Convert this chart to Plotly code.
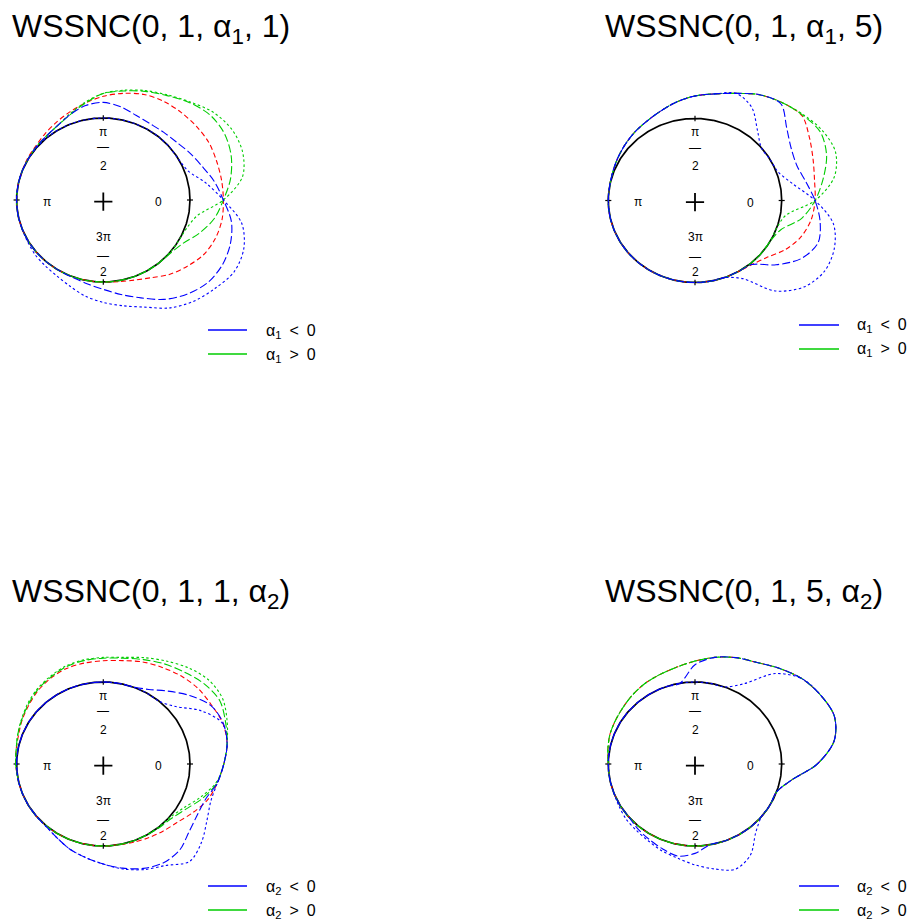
import numpy as np
import plotly.graph_objects as go

W, H = 915, 922
THETA_DEG = list(range(0, 360, 10))  # 0, 10, ..., 350

# ---------------- Panel 1 : WSSNC(0, 1, alpha1, 1) ----------------
P1_RED = [1.385, 1.385, 1.39, 1.405, 1.40, 1.395, 1.39, 1.37, 1.32, 1.265, 1.20, 1.14,
          1.09, 1.05, 1.02, 1.01, 1.0, 1.0, 1.0, 1.0, 1.0, 1.0, 1.0, 1.0,
          1.0, 1.0, 1.0, 1.0, 1.01, 1.04, 1.095, 1.185, 1.26, 1.335, 1.375, 1.39]
P1_GREEN_A = [1.385, 1.49, 1.57, 1.615, 1.61, 1.55, 1.47, 1.41, 1.35, 1.30, 1.20, 1.11,
              1.05, 1.02, 1.01, 1.0, 1.0, 1.0, 1.0, 1.0, 1.0, 1.0, 1.0, 1.0,
              1.0, 1.0, 1.0, 1.0, 1.0, 1.0, 1.0, 1.0, 1.01, 1.06, 1.18, 1.30]
P1_GREEN_B = [1.385, 1.63, 1.71, 1.715, 1.66, 1.56, 1.48, 1.42, 1.36, 1.30, 1.21, 1.12,
              1.05, 1.02, 1.01, 1.0, 1.0, 1.0, 1.0, 1.0, 1.0, 1.0, 1.0, 1.0,
              1.0, 1.0, 1.0, 1.0, 1.0, 1.0, 1.0, 1.0, 1.0, 1.0, 1.02, 1.10]
P1_BLUE_A = [1.385, 1.30, 1.21, 1.15, 1.10, 1.08, 1.075, 1.10, 1.155, 1.19, 1.17, 1.11,
             1.05, 1.02, 1.01, 1.0, 1.0, 1.0, 1.0, 1.0, 1.0, 1.0, 1.0, 1.0,
             1.0, 1.01, 1.04, 1.09, 1.17, 1.27, 1.40, 1.50, 1.57, 1.585, 1.56, 1.50]
P1_BLUE_B = [1.385, 1.20, 1.04, 1.0, 1.0, 1.0, 1.0, 1.0, 1.0, 1.0, 1.0, 1.0,
             1.0, 1.0, 1.0, 1.0, 1.0, 1.0, 1.0, 1.0, 1.0, 1.01, 1.03, 1.045,
             1.07, 1.12, 1.19, 1.25, 1.31, 1.39, 1.52, 1.615, 1.68, 1.745, 1.725, 1.62]

# ---------------- Panel 2 : WSSNC(0, 1, alpha1, 5) ----------------
P2_RED = [1.385, 1.40, 1.45, 1.525, 1.61, 1.56, 1.49, 1.39, 1.32, 1.275, 1.22, 1.16,
          1.115, 1.085, 1.055, 1.03, 1.01, 1.0, 1.0, 1.0, 1.0, 1.0, 1.0, 1.0,
          1.0, 1.0, 1.0, 1.0, 1.0, 1.0, 1.0, 1.02, 1.08, 1.20, 1.30, 1.36]
P2_GREEN_A = [1.385, 1.50, 1.615, 1.67, 1.62, 1.56, 1.49, 1.39, 1.32, 1.275, 1.22, 1.16,
              1.115, 1.085, 1.055, 1.03, 1.01, 1.0, 1.0, 1.0, 1.0, 1.0, 1.0, 1.0,
              1.0, 1.0, 1.0, 1.0, 1.0, 1.0, 1.0, 1.0, 1.0, 1.0, 1.05, 1.25]
P2_GREEN_B = [1.385, 1.63, 1.725, 1.70, 1.63, 1.56, 1.49, 1.39, 1.32, 1.275, 1.22, 1.16,
              1.115, 1.085, 1.055, 1.03, 1.01, 1.0, 1.0, 1.0, 1.0, 1.0, 1.0, 1.0,
              1.0, 1.0, 1.0, 1.0, 1.0, 1.0, 1.0, 1.0, 1.0, 1.0, 1.0, 1.06]
P2_BLUE_A = [1.385, 1.30, 1.25, 1.28, 1.38, 1.54, 1.49, 1.39, 1.32, 1.275, 1.22, 1.16,
             1.115, 1.085, 1.055, 1.03, 1.01, 1.0, 1.0, 1.0, 1.0, 1.0, 1.0, 1.0,
             1.0, 1.0, 1.0, 1.0, 1.0, 1.0, 1.0, 1.02, 1.22, 1.415, 1.51, 1.465]
P2_BLUE_B = [1.385, 1.15, 1.02, 1.0, 1.0, 1.12, 1.31, 1.39, 1.32, 1.275, 1.22, 1.16,
             1.115, 1.085, 1.055, 1.03, 1.01, 1.0, 1.0, 1.0, 1.0, 1.0, 1.0, 1.0,
             1.0, 1.0, 1.0, 1.0, 1.0, 1.0, 1.10, 1.44, 1.64, 1.725, 1.71, 1.62]

# ---------------- Panel 3 : WSSNC(0, 1, 1, alpha2) ----------------
P3_RED = [1.39, 1.45, 1.465, 1.44, 1.43, 1.40, 1.36, 1.325, 1.28, 1.26, 1.25, 1.24,
          1.21, 1.17, 1.12, 1.08, 1.04, 1.02, 1.01, 1.0, 1.0, 1.0, 1.0, 1.0,
          1.0, 1.0, 1.0, 1.0, 1.0, 1.015, 1.04, 1.07, 1.11, 1.19, 1.28, 1.335]
P3_GREEN_A = [1.39, 1.45, 1.50, 1.55, 1.52, 1.46, 1.41, 1.355, 1.31, 1.29, 1.28, 1.26,
              1.22, 1.18, 1.13, 1.085, 1.05, 1.02, 1.01, 1.0, 1.0, 1.0, 1.0, 1.0,
              1.0, 1.0, 1.0, 1.0, 1.0, 1.0, 1.0, 1.01, 1.03, 1.10, 1.22, 1.33]
P3_GREEN_B = [1.39, 1.45, 1.52, 1.59, 1.59, 1.53, 1.45, 1.38, 1.32, 1.30, 1.29, 1.27,
              1.23, 1.19, 1.14, 1.09, 1.05, 1.02, 1.01, 1.0, 1.0, 1.0, 1.0, 1.0,
              1.0, 1.0, 1.0, 1.0, 1.0, 1.0, 1.0, 1.0, 1.01, 1.07, 1.19, 1.32]
P3_BLUE_A = [1.39, 1.45, 1.47, 1.43, 1.30, 1.16, 1.05, 1.0, 1.0, 1.0, 1.0, 1.0,
             1.0, 1.0, 1.0, 1.0, 1.0, 1.0, 1.0, 1.0, 1.0, 1.0, 1.0, 1.01,
             1.05, 1.11, 1.16, 1.22, 1.29, 1.355, 1.39, 1.37, 1.29, 1.25, 1.255, 1.335]
P3_BLUE_B = [1.39, 1.45, 1.46, 1.30, 1.09, 1.0, 1.0, 1.0, 1.0, 1.0, 1.0, 1.0,
             1.0, 1.0, 1.0, 1.0, 1.0, 1.0, 1.0, 1.0, 1.0, 1.0, 1.0, 1.01,
             1.05, 1.11, 1.16, 1.22, 1.30, 1.37, 1.43, 1.55, 1.48, 1.38, 1.32, 1.335]

# ---------------- Panel 4 : WSSNC(0, 1, 5, alpha2) ----------------
P4_RED = [1.41, 1.63, 1.71, 1.675, 1.615, 1.52, 1.43, 1.38, 1.32, 1.255, 1.20, 1.165,
          1.14, 1.11, 1.08, 1.06, 1.045, 1.02, 1.0, 1.0, 1.0, 1.0, 1.0, 1.0,
          1.0, 1.0, 1.0, 1.0, 1.0, 1.0, 1.0, 1.0, 1.0, 1.0, 1.0, 1.13]
P4_GREEN_A = [1.41, 1.63, 1.71, 1.675, 1.615, 1.52, 1.43, 1.38, 1.32, 1.255, 1.20, 1.165,
              1.14, 1.11, 1.08, 1.06, 1.045, 1.02, 1.0, 1.0, 1.0, 1.0, 1.0, 1.0,
              1.0, 1.0, 1.0, 1.0, 1.0, 1.0, 1.0, 1.0, 1.0, 1.0, 1.0, 1.13]
P4_GREEN_B = [1.41, 1.63, 1.71, 1.675, 1.615, 1.52, 1.43, 1.38, 1.32, 1.255, 1.20, 1.165,
              1.14, 1.11, 1.08, 1.06, 1.045, 1.02, 1.0, 1.0, 1.0, 1.0, 1.0, 1.0,
              1.0, 1.0, 1.0, 1.0, 1.0, 1.0, 1.0, 1.0, 1.0, 1.0, 1.0, 1.13]
P4_BLUE_A = [1.41, 1.63, 1.71, 1.675, 1.615, 1.52, 1.43, 1.38, 1.32, 1.21, 1.0, 1.0,
             1.0, 1.0, 1.0, 1.0, 1.0, 1.0, 1.0, 1.0, 1.0, 1.0, 1.0, 1.03,
             1.06, 1.10, 1.14, 1.09, 1.0, 1.0, 1.0, 1.0, 1.0, 1.0, 1.0, 1.13]
P4_BLUE_B = [1.41, 1.63, 1.71, 1.675, 1.615, 1.44, 1.13, 1.0, 1.0, 1.0, 1.0, 1.0,
             1.0, 1.0, 1.0, 1.0, 1.0, 1.0, 1.0, 1.0, 1.0, 1.015, 1.04, 1.055,
             1.08, 1.125, 1.165, 1.23, 1.30, 1.365, 1.28, 1.09, 1.0, 1.0, 1.0, 1.13]

TITLES = ["WSSNC(0, 1, α<sub>1</sub>, 1)", "WSSNC(0, 1, α<sub>1</sub>, 5)",
          "WSSNC(0, 1, 1, α<sub>2</sub>)", "WSSNC(0, 1, 5, α<sub>2</sub>)"]
LEGEND_SUB = ["1", "1", "2", "2"]

AXIS_LABELS = [  # text, x, y (unit-circle coordinates)
    ("π", 0.0, 0.835), ("—", 0.0, 0.644), ("2", 0.0, 0.416),
    ("π", -0.653, -0.02), ("0", 0.635, -0.03),
    ("3π", 0.0, -0.449), ("—", 0.0, -0.685), ("2", 0.0, -0.877),
]
TICK_DEG = [0, 90, 180, 270]

RED, GREEN, BLUE = "#FF0000", "#00CD00", "#0000FF"
DASH_RED, DASH_A, DASH_B = "5px,3px", "8px,3px", "2.5px,2.5px"
FONT = "Liberation Sans, Arial, sans-serif"
RX, RY = 86.7, 82.0  # pixels per unit radius

PANELS = [
    dict(cx=103.3, cy=200.0, xpx=(0, 420), ypx=(40, 390), title_px=(10, 29),
         leg=(208, 247, 264, 330, 354),
         curves=[P1_RED, P1_GREEN_A, P1_GREEN_B, P1_BLUE_A, P1_BLUE_B]),
    dict(cx=695.0, cy=200.5, xpx=(495, 915), ypx=(40, 390), title_px=(603, 29),
         leg=(799, 839, 855, 325, 349),
         curves=[P2_RED, P2_GREEN_A, P2_GREEN_B, P2_BLUE_A, P2_BLUE_B]),
    dict(cx=103.3, cy=764.0, xpx=(0, 420), ypx=(604, 922), title_px=(10, 593),
         leg=(208, 247, 264, 886, 910),
         curves=[P3_RED, P3_GREEN_A, P3_GREEN_B, P3_BLUE_A, P3_BLUE_B]),
    dict(cx=695.0, cy=764.0, xpx=(495, 915), ypx=(604, 922), title_px=(603, 593),
         leg=(799, 839, 855, 886, 910),
         curves=[P4_RED, P4_GREEN_A, P4_GREEN_B, P4_BLUE_A, P4_BLUE_B]),
]
STYLES = [(RED, DASH_RED), (GREEN, DASH_A), (GREEN, DASH_B), (BLUE, DASH_A), (BLUE, DASH_B)]

fig = go.Figure()
layout = {}
annotations = []
shapes = []


def px_to_paper(x, y):
    return x / W, 1 - y / H


th = np.deg2rad(np.array(THETA_DEG, dtype=float))
order = list(range(18, 36)) + list(range(0, 19))  # start loop at 180 deg

for i, p in enumerate(PANELS):
    n = "" if i == 0 else str(i + 1)
    xref, yref = "x" + n, "y" + n
    L, R = p["xpx"]
    T, B = p["ypx"]
    cx, cy = p["cx"], p["cy"]
    layout["xaxis" + n] = dict(domain=[L / W, R / W], range=[(L - cx) / RX, (R - cx) / RX],
                               visible=False, fixedrange=True, anchor=yref)
    layout["yaxis" + n] = dict(domain=[1 - B / H, 1 - T / H], range=[(cy - B) / RY, (cy - T) / RY],
                               visible=False, fixedrange=True, anchor=xref)

    # unit circle
    t = np.linspace(0, 2 * np.pi, 361)
    fig.add_trace(go.Scatter(x=np.cos(t), y=np.sin(t), mode="lines", xaxis=xref, yaxis=yref,
                             line=dict(color="black", width=1.7), hoverinfo="skip"))
    # ticks
    tx, ty = [], []
    for d in TICK_DEG:
        a = np.deg2rad(d)
        tx += [0.965 * np.cos(a), 1.035 * np.cos(a), None]
        ty += [0.965 * np.sin(a), 1.035 * np.sin(a), None]
    fig.add_trace(go.Scatter(x=tx, y=ty, mode="lines", xaxis=xref, yaxis=yref,
                             line=dict(color="black", width=1.2), hoverinfo="skip"))
    # centre mark
    fig.add_trace(go.Scatter(x=[0], y=[-0.02], mode="markers", xaxis=xref, yaxis=yref,
                             marker=dict(symbol="cross-thin", size=13,
                                         line=dict(color="black", width=1.8)),
                             hoverinfo="skip"))
    # density curves
    for r_vals, (col, dash) in zip(p["curves"], STYLES):
        r = np.array(r_vals, dtype=float)
        xs = (r * np.cos(th))[order]
        ys = (r * np.sin(th))[order]
        fig.add_trace(go.Scatter(x=xs, y=ys, mode="lines", xaxis=xref, yaxis=yref,
                                 line=dict(color=col, width=1.1, dash=dash,
                                           shape="spline", smoothing=0.9),
                                 hoverinfo="skip"))
    # axis labels
    for txt, lx, ly in AXIS_LABELS:
        annotations.append(dict(text=txt, x=lx, y=ly, xref=xref, yref=yref, showarrow=False,
                                xanchor="center", yanchor="middle",
                                font=dict(family=FONT, size=12, color="black")))
    # title
    tx_, ty_ = px_to_paper(*p["title_px"])
    annotations.append(dict(text=TITLES[i], x=tx_, y=ty_, xref="paper", yref="paper",
                            showarrow=False, xanchor="left", yanchor="middle",
                            font=dict(family=FONT, size=32, color="black")))
    # legend
    lx0, lx1, ltx, ly0, ly1 = p["leg"]
    s = LEGEND_SUB[i]
    for ly, col, rel in [(ly0, BLUE, "&lt;"), (ly1, GREEN, "&gt;")]:
        a0, b0 = px_to_paper(lx0, ly)
        a1, _ = px_to_paper(lx1, ly)
        shapes.append(dict(type="line", xref="paper", yref="paper", x0=a0, x1=a1, y0=b0, y1=b0,
                           line=dict(color=col, width=1.6)))
        ax_, ay_ = px_to_paper(ltx, ly + 1)
        annotations.append(dict(text="α<sub>" + s + "</sub>\u2002" + rel + "\u20020",
                                x=ax_, y=ay_, xref="paper", yref="paper", showarrow=False,
                                xanchor="left", yanchor="middle",
                                font=dict(family=FONT, size=16, color="black")))

fig.update_layout(width=W, height=H, margin=dict(l=0, r=0, t=0, b=0),
                  paper_bgcolor="white", plot_bgcolor="rgba(0,0,0,0)", showlegend=False,
                  annotations=annotations, shapes=shapes, **layout)
fig.write_html("out.html")
